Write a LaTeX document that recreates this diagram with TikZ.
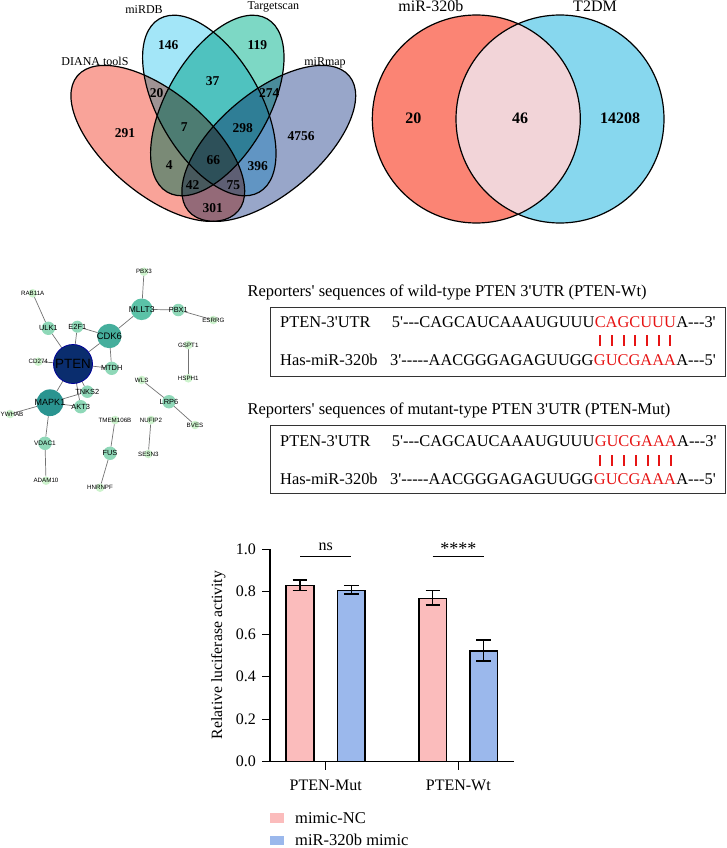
\documentclass[tikz,border=0pt]{standalone}
\usepackage{fontspec}
\setmainfont{Liberation Serif}[Ligatures=TeXOff]
\newfontfamily\netfont{Liberation Sans}
\usetikzlibrary{calc}
\pgfdeclarelayer{bg}
\pgfsetlayers{bg,main}
\definecolor{vA}{RGB}{249,163,153}
\definecolor{vB}{RGB}{163,230,248}
\definecolor{vC}{RGB}{125,216,197}
\definecolor{vD}{RGB}{152,166,201}
\definecolor{cL}{RGB}{251,132,116}
\definecolor{cR}{RGB}{135,215,238}
\definecolor{cI}{RGB}{242,212,216}
\definecolor{barP}{RGB}{251,188,188}
\definecolor{barB}{RGB}{155,184,236}
\definecolor{nPTEN}{RGB}{10,45,110}
\definecolor{nMAPK}{RGB}{42,148,144}
\definecolor{nCDK}{RGB}{69,174,156}
\definecolor{nMLL}{RGB}{91,194,167}
\definecolor{nMid}{RGB}{143,216,184}
\definecolor{nLeaf}{RGB}{205,243,205}
\definecolor{seqred}{RGB}{230,20,20}
\begin{document}
\begin{tikzpicture}[x=1pt,y=-1pt,
  vlab/.style={font=\fontsize{12}{12}\selectfont, inner sep=0pt, anchor=base},
  vnum/.style={font=\bfseries\fontsize{13.5}{13.5}\selectfont, inner sep=0pt},
  rlab/.style={font=\fontsize{16}{16}\selectfont, inner sep=0pt, anchor=base},
  rnum/.style={font=\bfseries\fontsize{16}{16}\selectfont, inner sep=0pt},
  vline/.style={line width=1.2pt, draw=black},
  gn/.style={circle, inner sep=0pt, outer sep=0pt, draw=none},
  lf/.style={gn, fill=nLeaf, minimum size=8.6pt},
  md/.style={gn, fill=nMid, minimum size=13.4pt},
  ltxt/.style={font=\netfont\fontsize{6.2}{6.2}\selectfont, inner sep=0pt},
  mtxt/.style={font=\netfont\fontsize{7.4}{7.4}\selectfont, inner sep=0pt},
  netedge/.style={draw=black!55, line width=0.7pt},
  ttl/.style={font=\fontsize{16.5}{16.5}\selectfont, inner sep=0pt, anchor=base west},
  seqt/.style={font=\fontsize{16.4}{16.4}\selectfont, inner sep=0pt, anchor=base west},
  redt/.style={seqt, text=seqred},
  pairtick/.style={draw=seqred, line width=2pt},
  seqbox/.style={draw=black!80, line width=1pt},
  axline/.style={line width=1.4pt},
  barbox/.style={draw=black, line width=1.3pt},
  ebar/.style={line width=1.3pt},
  tlab/.style={font=\fontsize{16}{16}\selectfont, inner sep=0pt},
]
\useasboundingbox (0,0) rectangle (726,848);

% ---------------- four-set Venn ----------------
\begin{scope}[blend group=multiply]
  \fill[vA, shift={(157.8,143.4)}, rotate=-40] (0,0) ellipse (105 and 51);
  \fill[vB, shift={(209.3,105.5)}, rotate=-60] (0,0) ellipse (100 and 51);
  \fill[vC, shift={(217.3,105.5)}, rotate=60] (0,0) ellipse (100 and 51);
  \fill[vD, shift={(268.8,143.4)}, rotate=40] (0,0) ellipse (105 and 51);
\end{scope}
\draw[vline, shift={(157.8,143.4)}, rotate=-40] (0,0) ellipse (105 and 51);
\draw[vline, shift={(209.3,105.5)}, rotate=-60] (0,0) ellipse (100 and 51);
\draw[vline, shift={(217.3,105.5)}, rotate=60] (0,0) ellipse (100 and 51);
\draw[vline, shift={(268.8,143.4)}, rotate=40] (0,0) ellipse (105 and 51);

\node[vlab] (lDiana) at (95,66) {DIANA toolS};
\node[vlab] (lmiRDB) at (144,13.3) {miRDB};
\node[vlab] (lTarget) at (273.3,9.5) {Targetscan};
\node[vlab] (lmiRmap) at (325,66) {miRmap};

\node[vnum] (n146) at (168.3,45) {146};
\node[vnum] (n119) at (257.3,45) {119};
\node[vnum] (n37) at (212.7,81) {37};
\node[vnum] (n20) at (156.7,92.7) {20};
\node[vnum] (n274) at (269.3,92.7) {274};
\node[vnum] (n291) at (125,133.3) {291};
\node[vnum] (n7) at (184.3,126.7) {7};
\node[vnum] (n298) at (242.7,128.3) {298};
\node[vnum] (n4756) at (301,136) {4756};
\node[vnum] (n66) at (213.3,160) {66};
\node[vnum] (n4) at (169.3,165) {4};
\node[vnum] (n396) at (257.7,166) {396};
\node[vnum] (n42) at (192.7,185.3) {42};
\node[vnum] (n75) at (233.3,185.3) {75};
\node[vnum] (n301) at (212.7,208) {301};

% ---------------- two-set Venn ----------------
\fill[cL] (476.3,119) circle (104);
\fill[cR] (560,119) circle (104);
\begin{scope}
  \clip (476.3,119) circle (104);
  \fill[cI] (560,119) circle (104);
\end{scope}
\draw[vline] (476.3,119) circle (104);
\draw[vline] (560,119) circle (104);
\node[rlab] (lmir) at (430.8,11.7) {miR-320b};
\node[rlab] (lt2dm) at (595,11.7) {T2DM};
\node[rnum] (r20) at (413.3,118.3) {20};
\node[rnum] (r46) at (520,118.3) {46};
\node[rnum] (r14208) at (620,118.3) {14208};

% ---------------- network ----------------
\node[gn, fill=nPTEN, draw=blue!60!black, line width=0.8pt, minimum size=39pt] (pten) at (73,364) {};
\node[gn, fill=nMAPK, minimum size=26.7pt] (mapk1) at (50,402.7) {};
\node[gn, fill=nCDK, minimum size=24.4pt] (cdk6) at (109.3,336) {};
\node[gn, fill=nMLL, minimum size=21.6pt] (mllt3) at (141.7,309.3) {};
\node[lf] (pbx3) at (144,271.7) {};
\node[lf] (rab11a) at (32.7,293.3) {};
\node[md, minimum size=12.5pt] (pbx1) at (178.3,310) {};
\node[lf] (esrrg) at (213.3,320) {};
\node[md] (ulk1) at (48.3,328.3) {};
\node[md, minimum size=12pt] (e2f1) at (77.3,326.7) {};
\node[lf] (gspt1) at (188.3,345) {};
\node[lf] (cd274) at (38.3,361.7) {};
\node[md] (mtdh) at (111.7,368.3) {};
\node[lf] (hsph1) at (188.3,378.3) {};
\node[lf] (wls) at (141.7,380) {};
\node[md, minimum size=12.5pt] (tnks2) at (87.3,391.7) {};
\node[md] (lrp6) at (169,401.7) {};
\node[md] (akt3) at (80.7,406.7) {};
\node[lf] (ywhab) at (10,414) {};
\node[lf] (bves) at (195,425) {};
\node[lf] (tmem) at (115,420) {};
\node[lf] (nufip2) at (151,420) {};
\node[md] (vdac1) at (45,443.3) {};
\node[md] (fus) at (110,453.3) {};
\node[lf] (sesn3) at (148.3,454) {};
\node[lf] (adam10) at (46,480.7) {};
\node[lf] (hnrnpf) at (100,487.7) {};

\begin{pgfonlayer}{bg}
  \draw[netedge] (pbx3) -- (mllt3);
  \draw[netedge] (mllt3) -- (pbx1);
  \draw[netedge] (pbx1) -- (esrrg);
  \draw[netedge] (mllt3) -- (cdk6);
  \draw[netedge] (rab11a) -- (ulk1);
  \draw[netedge] (ulk1) -- (pten);
  \draw[netedge] (e2f1) -- (pten);
  \draw[netedge] (e2f1) -- (cdk6);
  \draw[netedge] (cdk6) -- (pten);
  \draw[netedge] (cdk6) -- (mtdh);
  \draw[netedge] (pten) -- (mtdh);
  \draw[netedge] (cd274) -- (pten);
  \draw[netedge] (pten) -- (mapk1);
  \draw[netedge] (pten) -- (tnks2);
  \draw[netedge] (pten) -- (akt3);
  \draw[netedge] (mapk1) -- (tnks2);
  \draw[netedge] (mapk1) -- (akt3);
  \draw[netedge] (mapk1) -- (ywhab);
  \draw[netedge] (mapk1) -- (vdac1);
  \draw[netedge] (vdac1) -- (adam10);
  \draw[netedge] (gspt1) -- (hsph1);
  \draw[netedge] (wls) -- (lrp6);
  \draw[netedge] (lrp6) -- (bves);
  \draw[netedge] (tmem) -- (fus);
  \draw[netedge] (fus) -- (hnrnpf);
  \draw[netedge] (nufip2) -- (sesn3);
\end{pgfonlayer}

\node[font=\netfont\fontsize{13.4}{13.4}\selectfont, inner sep=0pt] (tpten) at (pten) {PTEN};
\node[font=\netfont\fontsize{9}{9}\selectfont, inner sep=0pt] (tmapk1) at (mapk1) {MAPK1};
\node[font=\netfont\fontsize{9.4}{9.4}\selectfont, inner sep=0pt] (tcdk6) at (cdk6) {CDK6};
\node[font=\netfont\fontsize{8.5}{8.5}\selectfont, inner sep=0pt] (tmllt3) at (mllt3) {MLLT3};
\node[ltxt] (tpbx3) at (pbx3) {PBX3};
\node[ltxt] (trab11a) at (rab11a) {RAB11A};
\node[mtxt] (tpbx1) at (pbx1) {PBX1};
\node[ltxt] (tesrrg) at (esrrg) {ESRRG};
\node[mtxt] (tulk1) at (ulk1) {ULK1};
\node[mtxt] (te2f1) at (e2f1) {E2F1};
\node[ltxt] (tgspt1) at (gspt1) {GSPT1};
\node[ltxt] (tcd274) at (cd274) {CD274};
\node[mtxt] (tmtdh) at (mtdh) {MTDH};
\node[ltxt] (thsph1) at (hsph1) {HSPH1};
\node[ltxt] (twls) at (wls) {WLS};
\node[mtxt] (ttnks2) at (tnks2) {TNKS2};
\node[mtxt] (tlrp6) at (lrp6) {LRP6};
\node[mtxt] (takt3) at (akt3) {AKT3};
\node[ltxt] (tywhab) at (12,414) {YWHAB};
\node[ltxt] (tbves) at (bves) {BVES};
\node[ltxt] (ttmem) at (tmem) {TMEM106B};
\node[ltxt] (tnufip2) at (nufip2) {NUFIP2};
\node[ltxt, font=\netfont\fontsize{6.5}{6.5}\selectfont] (tvdac1) at (vdac1) {VDAC1};
\node[mtxt] (tfus) at (fus) {FUS};
\node[ltxt] (tsesn3) at (sesn3) {SESN3};
\node[ltxt] (tadam10) at (adam10) {ADAM10};
\node[ltxt] (thnrnpf) at (hnrnpf) {HNRNPF};

% ---------------- reporter sequences ----------------
\node[ttl] (title1) at (247.3,296) {Reporters' sequences of wild-type PTEN 3'UTR (PTEN-Wt)};
\draw[seqbox] (270.7,307.3) rectangle (725,376);
\node[seqt] (w1a) at (280,327.3) {PTEN-3'UTR};
\node[seqt] (w1b) at (391.7,327.3) {5'{-}{-}{-}CAGCAUCAAAUGUUU};
\node[redt] (w1c) at (w1b.base east) {CAGCUUU};
\node[seqt] (w1d) at (w1c.base east) {A{-}{-}{-}3'};
\node[seqt] (w2a) at (280,365) {Has-miR-320b};
\node[seqt] (w2b) at (390,365) {3'{-}{-}{-}{-}{-}AACGGGAGAGUUGG};
\node[redt] (w2c) at (w2b.base east) {GUCGAAA};
\node[seqt] (w2d) at (w2c.base east) {A{-}{-}{-}5'};
\foreach \i in {1,...,7}
  \draw[pairtick] ($(w1c.base west)!{(\i-0.5)/7}!(w1c.base east)+(0,7.7)$) -- ++(0,11);

\node[ttl] (title2) at (247.3,414) {Reporters' sequences of mutant-type PTEN 3'UTR (PTEN-Mut)};
\draw[seqbox] (270.7,425) rectangle (725,493.7);
\node[seqt] (m1a) at (280,446.7) {PTEN-3'UTR};
\node[seqt] (m1b) at (391.7,446.7) {5'{-}{-}{-}CAGCAUCAAAUGUUU};
\node[redt] (m1c) at (m1b.base east) {GUCGAAA};
\node[seqt] (m1d) at (m1c.base east) {A{-}{-}{-}3'};
\node[seqt] (m2a) at (280,484.4) {Has-miR-320b};
\node[seqt] (m2b) at (390,484.4) {3'{-}{-}{-}{-}{-}AACGGGAGAGUUGG};
\node[redt] (m2c) at (m2b.base east) {GUCGAAA};
\node[seqt] (m2d) at (m2c.base east) {A{-}{-}{-}5'};
\foreach \i in {1,...,7}
  \draw[pairtick] ($(m1c.base west)!{(\i-0.5)/7}!(m1c.base east)+(0,8.3)$) -- ++(0,11);

% ---------------- bar chart ----------------
\draw[barbox, fill=barP] (286,761.7) rectangle (314,585.4);
\draw[barbox, fill=barB] (337.3,761.7) rectangle (365,590.3);
\draw[barbox, fill=barP] (419,761.7) rectangle (446.7,598.3);
\draw[barbox, fill=barB] (470,761.7) rectangle (497.3,651);
\draw[axline] (270,549.3) -- (270,761.7) -- (514,761.7);
\foreach \v/\t in {0/0.0,0.2/0.2,0.4/0.4,0.6/0.6,0.8/0.8,1/1.0}{
  \draw[axline] (262,761.7-212.4*\v) -- (270,761.7-212.4*\v);
  \node[tlab, anchor=east] at (256,761.7-212.4*\v) {\t};
}
\draw[axline] (325.7,761.7) -- (325.7,769.5);
\draw[axline] (458.3,761.7) -- (458.3,769.5);
% error bars
\draw[ebar] (300,580) -- (300,590.7) (292.7,580) -- (307.3,580) (292.7,590.7) -- (307.3,590.7);
\draw[ebar] (351.2,585.3) -- (351.2,594) (343.9,585.3) -- (358.5,585.3) (343.9,594) -- (358.5,594);
\draw[ebar] (432.8,590.7) -- (432.8,605) (425.5,590.7) -- (440.1,590.7) (425.5,605) -- (440.1,605);
\draw[ebar] (483.7,640) -- (483.7,661) (476.4,640) -- (491,640) (476.4,661) -- (491,661);
% significance
\draw[ebar] (300,556.7) -- (350.7,556.7);
\node[tlab, anchor=base] (ns) at (325.7,550) {ns};
\draw[ebar] (432.7,556.7) -- (484,556.7);
\node[tlab, anchor=base, font=\fontsize{18}{18}\selectfont] (stars) at (458.3,554) {****};
\node[tlab, rotate=90, font=\fontsize{15.7}{15.7}\selectfont] (ylab) at (218.3,655) {Relative luciferase activity};
\node[tlab, anchor=base] (xmut) at (325.7,790.7) {PTEN-Mut};
\node[tlab, anchor=base] (xwt) at (458.3,790.7) {PTEN-Wt};
% legend
\fill[barP] (270,812.8) rectangle (284,822.8);
\node[tlab, anchor=base west, font=\fontsize{16.5}{16.5}\selectfont] (leg1) at (295,823.5) {mimic-NC};
\fill[barB] (270,835.8) rectangle (284,845.2);
\node[tlab, anchor=base west, font=\fontsize{16.5}{16.5}\selectfont] (leg2) at (295,845) {miR-320b mimic};
\end{tikzpicture}
\end{document}
